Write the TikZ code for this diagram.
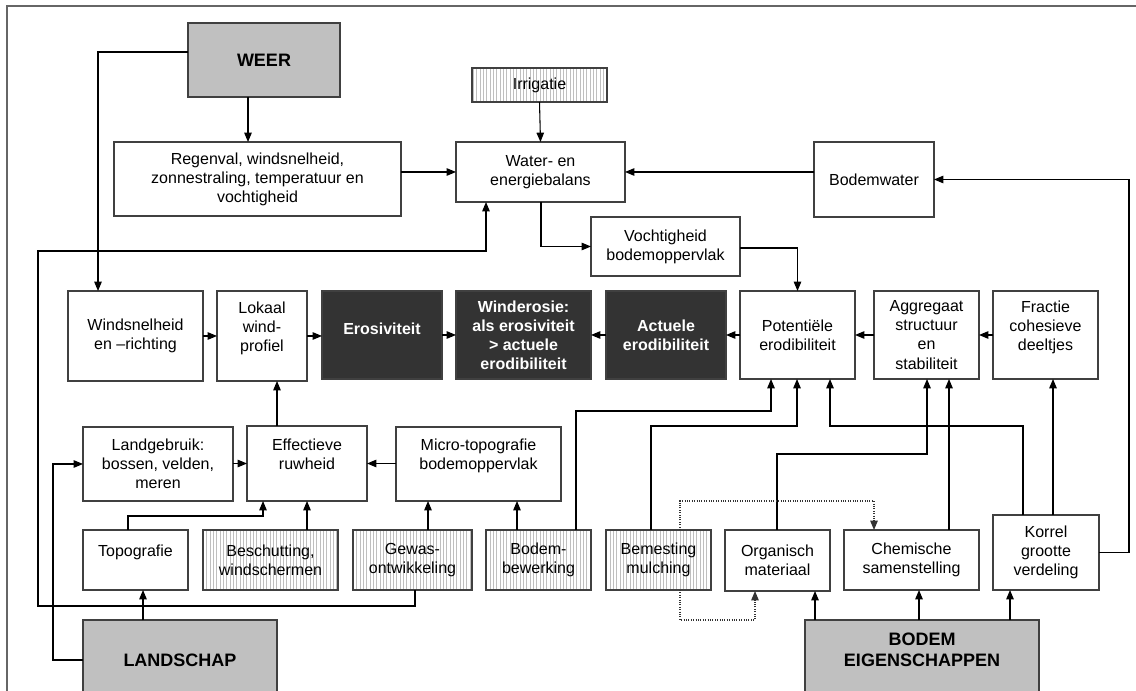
\documentclass[tikz,border=0pt]{standalone}
\usepackage{fontspec}
\setmainfont{Liberation Sans}
\usetikzlibrary{calc,arrows.meta,patterns.meta}
\definecolor{boxgrey}{HTML}{C0C0C0}
\definecolor{boxdark}{HTML}{333333}
\definecolor{boxline}{HTML}{404040}
\tikzset{
  box size/.style 2 args={minimum width=#1*0.75pt,minimum height=#2*0.75pt},
  plain box/.style={draw=boxline,line width=0.9pt,fill=white,inner sep=0pt,outer sep=0pt,align=center,font=\fontsize{12}{14.3}\selectfont},
  hatched box/.style={plain box,pattern={Lines[angle=90,distance=2.5pt,line width=0.4pt]},pattern color=black!25},
  grey box/.style={plain box,fill=boxgrey,font=\fontsize{13.5}{15.8}\selectfont\bfseries},
  dark box/.style={plain box,fill=boxdark,text=white,font=\fontsize{12}{14.3}\selectfont\bfseries},
  link line/.style={line width=0.8pt,-{Triangle[length=7pt,width=5.6pt]}},
  dotted link/.style={line width=0.8pt,densely dotted,black!80,-{Triangle[length=7pt,width=5.6pt]}},
  frame line/.style={line width=0.8pt,black!60},
}

\begin{document}
\begin{tikzpicture}[x=0.75pt,y=-0.75pt]
\useasboundingbox (0,0) rectangle (1136,691);
\draw[frame line] (7,691) -- (7,6) -- (1136,6);
% top part
\node[grey box,box size={152}{74}] (weer) at (264,60) {WEER};
\node[plain box,box size={287}{74}] (regen) at (257.5,179) {Regenval, windsnelheid,\\zonnestraling, temperatuur en\\vochtigheid};
\node[hatched box,box size={135}{34}] (irrig) at (539.5,85) {Irrigatie};
\node[plain box,box size={169}{60}] (water) at (540.5,172) {Water- en\\energiebalans};
\node[plain box,box size={120}{75}] (bodemwater) at (874,179.5) {Bodemwater};
\node[plain box,box size={149}{59}] (vocht) at (665.5,246.5) {Vochtigheid\\bodemoppervlak};
% middle row
\node[plain box,box size={135}{90}] (wind) at (135.5,336) {Windsnelheid\\en –richting};
\node[plain box,box size={90}{90}] (lokaal) at (262,336) {Lokaal\\wind-\\profiel\\\mbox{}};
\node[dark box,box size={120}{88}] (erosiv) at (382,335) {\raisebox{10pt}{Erosiviteit}};
\node[dark box,box size={135}{88}] (winderosie) at (523.5,335) {Winderosie:\\als erosiviteit\\> actuele\\erodibiliteit};
\node[dark box,box size={120}{88}] (actuele) at (666,335) {Actuele\\erodibiliteit};
\node[plain box,box size={115}{88}] (potent) at (797.5,335) {Potentiële\\erodibiliteit};
\node[plain box,box size={105}{88}] (aggreg) at (926.5,335) {Aggregaat\\structuur\\en\\stabiliteit};
\node[plain box,box size={105}{88}] (fractie) at (1045.5,335) {Fractie\\cohesieve\\deeltjes\\\mbox{}};
% lower rows
\node[plain box,box size={150}{74}] (landgebruik) at (158,464) {Landgebruik:\\bossen, velden,\\meren};
\node[plain box,box size={120}{75}] (effectief) at (307,463.5) {Effectieve\\ruwheid\\\mbox{}};
\node[plain box,box size={165}{74}] (micro) at (478.5,464) {Micro-topografie\\bodemoppervlak\\\mbox{}};
\node[plain box,box size={105}{60}] (topo) at (135.5,560) {Topografie\\\mbox{}};
\node[hatched box,box size={135}{60}] (beschut) at (270.5,560) {Beschutting,\\windschermen};
\node[hatched box,box size={119}{60}] (gewas) at (412.5,560) {Gewas-\\ontwikkeling};
\node[hatched box,box size={105}{60}] (bodembew) at (538.5,560) {Bodem-\\bewerking};
\node[hatched box,box size={105}{60}] (bemest) at (658.5,560) {Bemesting\\mulching};
\node[plain box,box size={105}{61}] (organ) at (777.5,560.5) {Organisch\\materiaal};
\node[plain box,box size={135}{60}] (chem) at (911.5,560) {Chemische\\samenstelling};
\node[plain box,box size={106}{75}] (korrel) at (1046,552.5) {Korrel\\grootte\\verdeling};
\node[grey box,box size={194}{80}] (landschap) at (180,660) {LANDSCHAP};
\node[grey box,box size={234}{80}] (bodem) at (922,660) {BODEM\\EIGENSCHAPPEN\\\mbox{}};
% connectors
\draw[link line] (weer.south -| 248,0) -- (regen.north -| 248,0);
\draw[link line] (weer.west |- 0,52) -| (wind.north -| 98,0);
\draw[link line] (irrig.south) -- (water.north);
\draw[link line] (regen.east |- water.west) -- (water.west);
\draw[link line] (bodemwater.west |- water.east) -- (water.east);
\draw[link line] (water.south -| 541,0) |- (vocht.west);
\draw[link line] (vocht.east |- 0,248) -| (potent.north);
\draw[link line] (wind.east) -- (lokaal.west);
\draw[link line] (lokaal.east) -- (erosiv.west |- lokaal.east);
\draw[link line] (erosiv.east) -- (winderosie.west);
\draw[link line] (actuele.west) -- (winderosie.east);
\draw[link line] (potent.west) -- (actuele.east);
\draw[link line] (aggreg.west) -- (potent.east);
\draw[link line] (fractie.west) -- (aggreg.east);
\draw[link line] (effectief.north -| 277,0) -- (lokaal.south -| 277,0);
\draw[link line] (landgebruik.east |- effectief.west) -- (effectief.west);
\draw[link line] (micro.west |- effectief.east) -- (effectief.east);
\draw[link line] (topo.north -| 128,0) |- (263,516) -- (effectief.south -| 263,0);
\draw[link line] (beschut.north -| 307,0) -- (effectief.south -| 307,0);
\draw[link line] (gewas.north -| 428,0) -- (micro.south -| 428,0);
\draw[link line] (bodembew.north -| 517,0) -- (micro.south -| 517,0);
\draw[link line] (gewas.south -| 415,0) |- (38,606) |- (486,251) -- (water.south -| 486,0);
\draw[link line] (landschap.west) -- ++(-30,0) |- (landgebruik.west);
\draw[link line] (landschap.north -| 143,0) -- (topo.south -| 143,0);
\draw[link line] (bodembew.north -| 576,0) |- (771,411) -- (potent.south -| 771,0);
\draw[link line] (bemest.north -| 651,0) |- (797,426) -- (potent.south -| 797,0);
\draw[link line] (korrel.north -| 1023,0) |- (830,426) -- (potent.south -| 830,0);
\draw[link line] (organ.north -| 777,0) |- (927,454) -- (aggreg.south -| 927,0);
\draw[link line] (chem.north -| 949,0) -- (aggreg.south -| 949,0);
\draw[link line] (korrel.north -| 1053,0) -- (fractie.south -| 1053,0);
\draw[link line] (korrel.east) -- ++(30,0) |- (bodemwater.east);
\draw[link line] (bodem.north -| 815,0) -- (organ.south -| 815,0);
\draw[link line] (bodem.north -| 919,0) -- (chem.south -| 919,0);
\draw[link line] (bodem.north -| 1010,0) -- (korrel.south -| 1010,0);
\draw[dotted link] (bemest.north -| 680,0) |- (874,501) -- (chem.north -| 874,0);
\draw[dotted link] (bemest.south -| 680,0) |- (755,620) -- (organ.south -| 755,0);
\end{tikzpicture}
\end{document}
